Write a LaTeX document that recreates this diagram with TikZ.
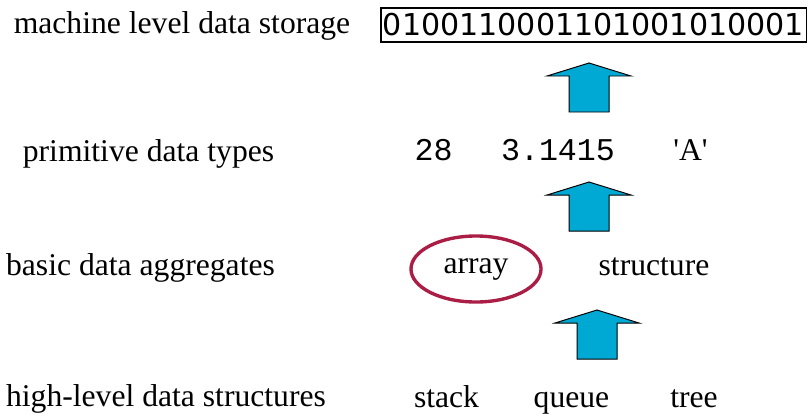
\documentclass[tikz,border=0pt]{standalone}
\usepackage{fontspec}
\setmainfont{Liberation Serif}
\newfontfamily\codefont{Liberation Mono}
\newfontfamily\bitfont{DejaVu Sans}
\newfontfamily\rawserif{Liberation Serif}[Ligatures=TeXOff]
\usetikzlibrary{shapes.geometric,positioning}

\definecolor{arrowblue}{RGB}{0,168,212}
\definecolor{ringred}{RGB}{170,30,70}

\begin{document}
\begin{tikzpicture}[x=0.025cm, y=-0.025cm,
			level/.style={font=\fontsize{22.5}{27}\selectfont, inner sep=0pt, anchor=base},
			value/.style={level},
			code/.style={level, font=\fontsize{22.5}{27}\selectfont\codefont},
			bits/.style={draw=black, line width=0.8pt, font=\fontsize{21.4}{24}\selectfont\bitfont,
					minimum width=10.625cm, minimum height=0.85cm, inner sep=0pt},
			upblock/.pic={
					\draw[fill=arrowblue, draw=black, line width=0.7pt, line join=miter]
					(-20,0) -- (-20,-36) -- (-42,-36) -- (0,-49) -- (42,-36) -- (20,-36) -- (20,0) -- cycle;
				},]
		\useasboundingbox (0,0) rectangle (808,417);

		% left column
		\node (machine) [level] at (182,33) {machine level data storage};
		\node (primitive) [level] at (148.5,161) {primitive data types};
		\node (aggregates) [level] at (140.5,275) {basic data aggregates};
		\node (highlevel) [level] at (166,406) {high-level data structures};

		% right column
		\node (storage) [bits] at (593.5,25) {0100110001101001010001};

		\node (int) [code] at (433.5,160) {28};
		\node (real) [code] at (558,160) {3.1415};
		\node (char) [value, font=\fontsize{22.5}{27}\selectfont\rawserif] at (690.5,160) {'A'};

		\node (array) [draw=ringred, line width=2.4pt, ellipse, inner sep=0pt,
			minimum width=3.25cm, minimum height=1.65cm] at (476,269) {\fontsize{22.5}{27}\selectfont array};
		\node (structure) [value] at (654,275) {structure};

		\node (stack) [value] at (446.5,407) {stack};
		\node (queue) [value] at (571.5,407) {queue};
		\node (tree) [value] at (694,407) {tree};

		\pic (up1) at (589,112) {upblock};
		\pic (up2) at (589,231) {upblock};
		\pic (up3) at (597,359) {upblock};
	\end{tikzpicture}
\end{document}
